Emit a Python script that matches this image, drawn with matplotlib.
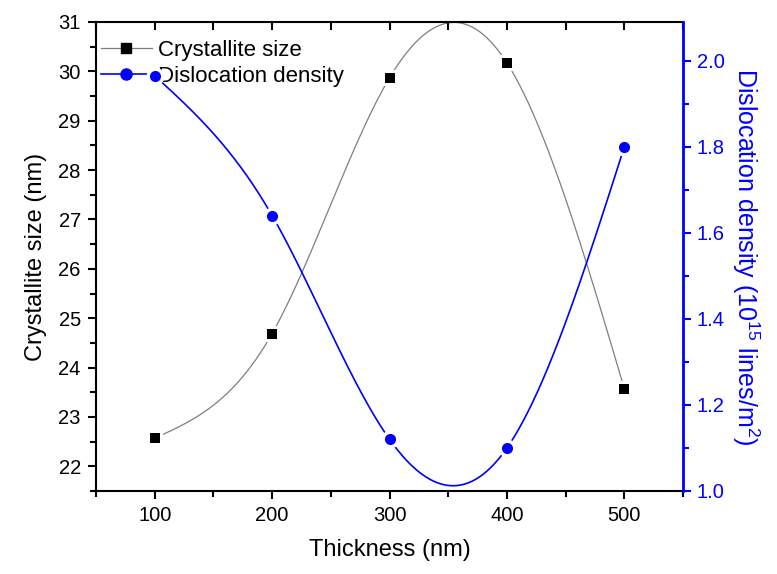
import matplotlib
matplotlib.use("Agg")
import matplotlib.pyplot as plt
import numpy as np
from matplotlib.lines import Line2D

plt.rcParams["font.family"] = ["Liberation Sans", "DejaVu Sans"]
plt.rcParams["mathtext.fontset"] = "custom"
plt.rcParams["mathtext.rm"] = "Liberation Sans"
plt.rcParams["mathtext.default"] = "regular"

thickness = [100, 200, 300, 400, 500]
crystallite = [22.57, 24.69, 29.87, 30.17, 23.57]
dislocation = [1.965, 1.64, 1.12, 1.10, 1.80]


def natural_spline(x, y, n=400):
    # natural cubic spline, drawn the same way Origin smooths the line
    x = np.asarray(x, float)
    y = np.asarray(y, float)
    k = len(x)
    h = np.diff(x)
    A = np.zeros((k, k))
    b = np.zeros(k)
    A[0, 0] = A[-1, -1] = 1
    for i in range(1, k - 1):
        A[i, i - 1] = h[i - 1]
        A[i, i] = 2 * (h[i - 1] + h[i])
        A[i, i + 1] = h[i]
        b[i] = 6 * ((y[i + 1] - y[i]) / h[i] - (y[i] - y[i - 1]) / h[i - 1])
    m = np.linalg.solve(A, b)
    xs = np.linspace(x[0], x[-1], n)
    idx = np.clip(np.searchsorted(x, xs) - 1, 0, k - 2)
    x0, x1 = x[idx], x[idx + 1]
    hh = x1 - x0
    t0, t1 = x1 - xs, xs - x0
    ys = (m[idx] * t0**3 + m[idx + 1] * t1**3) / (6 * hh) \
        + (y[idx] / hh - m[idx] * hh / 6) * t0 \
        + (y[idx + 1] / hh - m[idx + 1] * hh / 6) * t1
    return xs, ys


fig = plt.figure(figsize=(7.77, 5.74), dpi=100)
ax = fig.add_axes([0.1236, 0.1446, 0.7555, 0.8171])
ax2 = ax.twinx()

xs, ys = natural_spline(thickness, crystallite)
ax.plot(xs, ys, color="#7f7f7f", lw=0.9, zorder=2)
# white halo under the markers -> small gap in the line like Origin does
ax.plot(thickness, crystallite, ls="none", marker="s", ms=12, mfc="white",
        mec="white", mew=0, zorder=3)
ax.plot(thickness, crystallite, ls="none", marker="s", ms=7.3, mfc="black",
        mec="black", mew=0, zorder=4)

xs2, ys2 = natural_spline(thickness, dislocation)
ax2.plot(xs2, ys2, color="blue", lw=1.2, zorder=2)
ax2.plot(thickness, dislocation, ls="none", marker="o", ms=13, mfc="white",
         mec="white", mew=0, zorder=3)
ax2.plot(thickness, dislocation, ls="none", marker="o", ms=8, mfc="blue",
         mec="blue", mew=0, zorder=4)

ax.set_xlim(50, 550)
ax.set_ylim(21.5, 31)
ax2.set_ylim(1.0, 2.09)

ax.set_xticks([100, 200, 300, 400, 500])
ax.set_xticks(np.arange(50, 551, 50), minor=True)
ax.set_yticks(np.arange(22, 32, 1))
ax.set_yticks(np.arange(21.5, 31, 1), minor=True)
ax2.set_yticks(np.arange(1.0, 2.01, 0.2))
ax2.set_yticks(np.arange(1.1, 2.05, 0.2), minor=True)
ax2.set_yticklabels([f"{v:.1f}" for v in np.arange(1.0, 2.01, 0.2)])

ax.tick_params(axis="both", which="major", direction="out", length=6, width=1.5,
               labelsize=14.5, pad=5)
ax.tick_params(axis="both", which="minor", direction="out", length=4, width=1.5)
ax2.tick_params(axis="y", which="major", direction="out", length=6, width=1.5,
                labelsize=14.5, colors="blue", pad=4)
ax2.tick_params(axis="y", which="minor", direction="out", length=4, width=1.5,
                colors="blue")

# top axis: inward ticks every 50, no labels
ax2.xaxis.set_visible(True)
ax2.tick_params(axis="x", which="both", bottom=False, top=True, labelbottom=False,
                labeltop=False, direction="in", length=6, width=1.5, color="black")

for s in ["left", "bottom", "top"]:
    ax.spines[s].set_linewidth(1.5)
ax2.spines["right"].set_color("blue")
ax2.spines["right"].set_linewidth(2)
for s in ["left", "bottom", "top"]:
    ax2.spines[s].set_visible(False)
ax.spines["right"].set_visible(False)

ax.set_xlabel("Thickness (nm)", fontsize=17, labelpad=10)
ax.set_ylabel("Crystallite size (nm)", fontsize=17, labelpad=8)
ax2.set_ylabel(r"Dislocation density (10$^{15}$ lines/m$^{2}$)", fontsize=18,
               color="blue", rotation=270, labelpad=26)

handles = [
    Line2D([], [], color="#7f7f7f", lw=0.9, marker="s", ms=7.5, mfc="black", mec="black"),
    Line2D([], [], color="blue", lw=1.2, marker="o", ms=8, mfc="blue", mec="blue"),
]
ax.legend(handles, ["Crystallite size", "Dislocation density"], loc="upper left",
          frameon=False, fontsize=16, handlelength=2.3, handletextpad=0.3,
          borderaxespad=0.1, labelspacing=0.2, bbox_to_anchor=(-0.011, 0.985))

fig.savefig("out.png", dpi=100)
